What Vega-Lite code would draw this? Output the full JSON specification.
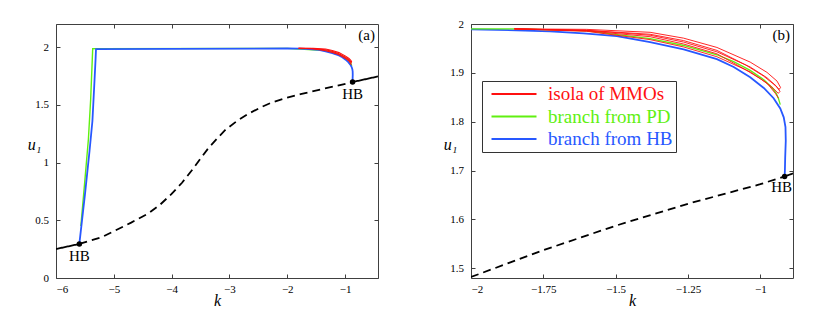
{
"$schema": "https://vega.github.io/schema/vega-lite/v6.json",
"background": "white",
"padding": {"left": 26, "top": 17, "right": 0, "bottom": 0},
"config": {
  "font": "Liberation Serif",
  "view": {"stroke": "#404040", "strokeWidth": 1},
  "axis": {"domain": false, "grid": false, "ticks": true, "tickSize": -4, "tickColor": "#404040", "labelFont": "Liberation Serif", "labelFontSize": 11, "labelColor": "black", "titleFont": "Liberation Serif", "titleFontSize": 16, "titleFontStyle": "italic", "titleFontWeight": "normal", "titleColor": "black"},
  "legend": {"labelFont": "Liberation Serif"}
},
"datasets": {
  "lines": [
    {"p":"a","s":"as1","b":"stable","i":1,"k":-6,"u":0.251},
    {"p":"a","s":"as1","b":"stable","i":2,"k":-5.596,"u":0.295},
    {"p":"a","s":"as2","b":"unstable","i":1,"k":-5.596,"u":0.295},
    {"p":"a","s":"as2","b":"unstable","i":2,"k":-5.21,"u":0.353},
    {"p":"a","s":"as2","b":"unstable","i":3,"k":-4.98,"u":0.41},
    {"p":"a","s":"as2","b":"unstable","i":4,"k":-4.7,"u":0.48},
    {"p":"a","s":"as2","b":"unstable","i":5,"k":-4.4,"u":0.56},
    {"p":"a","s":"as2","b":"unstable","i":6,"k":-4.2,"u":0.635},
    {"p":"a","s":"as2","b":"unstable","i":7,"k":-4.0,"u":0.728},
    {"p":"a","s":"as2","b":"unstable","i":8,"k":-3.82,"u":0.825},
    {"p":"a","s":"as2","b":"unstable","i":9,"k":-3.653,"u":0.931},
    {"p":"a","s":"as2","b":"unstable","i":10,"k":-3.5,"u":1.035},
    {"p":"a","s":"as2","b":"unstable","i":11,"k":-3.364,"u":1.125},
    {"p":"a","s":"as2","b":"unstable","i":12,"k":-3.2,"u":1.215},
    {"p":"a","s":"as2","b":"unstable","i":13,"k":-3.076,"u":1.28},
    {"p":"a","s":"as2","b":"unstable","i":14,"k":-2.87,"u":1.36},
    {"p":"a","s":"as2","b":"unstable","i":15,"k":-2.672,"u":1.422},
    {"p":"a","s":"as2","b":"unstable","i":16,"k":-2.45,"u":1.48},
    {"p":"a","s":"as2","b":"unstable","i":17,"k":-2.269,"u":1.52},
    {"p":"a","s":"as2","b":"unstable","i":18,"k":-2.0,"u":1.562},
    {"p":"a","s":"as2","b":"unstable","i":19,"k":-1.75,"u":1.595},
    {"p":"a","s":"as2","b":"unstable","i":20,"k":-1.45,"u":1.63},
    {"p":"a","s":"as2","b":"unstable","i":21,"k":-1.173,"u":1.661},
    {"p":"a","s":"as2","b":"unstable","i":22,"k":-0.87,"u":1.697},
    {"p":"a","s":"as3","b":"stable","i":1,"k":-0.87,"u":1.697},
    {"p":"a","s":"as3","b":"stable","i":2,"k":-0.43,"u":1.746},

    {"p":"a","s":"ag","b":"branch from PD","i":1,"k":-5.57,"u":0.45},
    {"p":"a","s":"ag","b":"branch from PD","i":2,"k":-5.5,"u":0.85},
    {"p":"a","s":"ag","b":"branch from PD","i":3,"k":-5.44,"u":1.2},
    {"p":"a","s":"ag","b":"branch from PD","i":4,"k":-5.40,"u":1.55},
    {"p":"a","s":"ag","b":"branch from PD","i":5,"k":-5.365,"u":1.986},
    {"p":"a","s":"ag","b":"branch from PD","i":6,"k":-5.30,"u":1.987},
    {"p":"a","s":"ag","b":"branch from PD","i":7,"k":-2,"u":1.989},
    {"p":"a","s":"ag","b":"branch from PD","i":8,"k":-1.336,"u":1.97},
    {"p":"a","s":"ag","b":"branch from PD","i":9,"k":-1.22,"u":1.956},
    {"p":"a","s":"ag","b":"branch from PD","i":10,"k":-1.105,"u":1.937},
    {"p":"a","s":"ag","b":"branch from PD","i":11,"k":-1.047,"u":1.923},
    {"p":"a","s":"ag","b":"branch from PD","i":12,"k":-0.99,"u":1.905},
    {"p":"a","s":"ag","b":"branch from PD","i":13,"k":-0.943,"u":1.886},
    {"p":"a","s":"ag","b":"branch from PD","i":14,"k":-0.915,"u":1.87},
    {"p":"a","s":"ag","b":"branch from PD","i":15,"k":-0.9,"u":1.858},
    {"p":"a","s":"ag","b":"branch from PD","i":16,"k":-0.892,"u":1.847},
    {"p":"a","s":"ag","b":"branch from PD","i":17,"k":-0.886,"u":1.835},

    {"p":"a","s":"ab","b":"branch from HB","i":1,"k":-5.596,"u":0.295},
    {"p":"a","s":"ab","b":"branch from HB","i":2,"k":-5.5,"u":0.72},
    {"p":"a","s":"ab","b":"branch from HB","i":3,"k":-5.42,"u":1.1},
    {"p":"a","s":"ab","b":"branch from HB","i":4,"k":-5.37,"u":1.36},
    {"p":"a","s":"ab","b":"branch from HB","i":5,"k":-5.335,"u":1.7},
    {"p":"a","s":"ab","b":"branch from HB","i":6,"k":-5.315,"u":1.9},
    {"p":"a","s":"ab","b":"branch from HB","i":7,"k":-5.308,"u":1.983},
    {"p":"a","s":"ab","b":"branch from HB","i":8,"k":-4,"u":1.985},
    {"p":"a","s":"ab","b":"branch from HB","i":9,"k":-2,"u":1.988},
    {"p":"a","s":"ab","b":"branch from HB","i":10,"k":-1.797,"u":1.987},
    {"p":"a","s":"ab","b":"branch from HB","i":11,"k":-1.682,"u":1.985},
    {"p":"a","s":"ab","b":"branch from HB","i":12,"k":-1.566,"u":1.981},
    {"p":"a","s":"ab","b":"branch from HB","i":13,"k":-1.451,"u":1.975},
    {"p":"a","s":"ab","b":"branch from HB","i":14,"k":-1.336,"u":1.963},
    {"p":"a","s":"ab","b":"branch from HB","i":15,"k":-1.22,"u":1.948},
    {"p":"a","s":"ab","b":"branch from HB","i":16,"k":-1.105,"u":1.928},
    {"p":"a","s":"ab","b":"branch from HB","i":17,"k":-1.047,"u":1.912},
    {"p":"a","s":"ab","b":"branch from HB","i":18,"k":-0.99,"u":1.891},
    {"p":"a","s":"ab","b":"branch from HB","i":19,"k":-0.943,"u":1.869},
    {"p":"a","s":"ab","b":"branch from HB","i":20,"k":-0.909,"u":1.848},
    {"p":"a","s":"ab","b":"branch from HB","i":21,"k":-0.886,"u":1.827},
    {"p":"a","s":"ab","b":"branch from HB","i":22,"k":-0.874,"u":1.809},
    {"p":"a","s":"ab","b":"branch from HB","i":23,"k":-0.868,"u":1.789},
    {"p":"a","s":"ab","b":"branch from HB","i":24,"k":-0.867,"u":1.761},
    {"p":"a","s":"ab","b":"branch from HB","i":25,"k":-0.869,"u":1.727},
    {"p":"a","s":"ab","b":"branch from HB","i":26,"k":-0.87,"u":1.70},
    {"p":"a","s":"ab","b":"branch from HB","i":27,"k":-0.87,"u":1.697},

    {"p":"a","s":"ar1","b":"isola of MMOs","i":1,"k":-1.805,"u":1.99},
    {"p":"a","s":"ar1","b":"isola of MMOs","i":2,"k":-1.555,"u":1.989},
    {"p":"a","s":"ar1","b":"isola of MMOs","i":3,"k":-1.336,"u":1.983},
    {"p":"a","s":"ar1","b":"isola of MMOs","i":4,"k":-1.22,"u":1.971},
    {"p":"a","s":"ar1","b":"isola of MMOs","i":5,"k":-1.105,"u":1.952},
    {"p":"a","s":"ar1","b":"isola of MMOs","i":6,"k":-0.99,"u":1.922},
    {"p":"a","s":"ar1","b":"isola of MMOs","i":7,"k":-0.932,"u":1.901},
    {"p":"a","s":"ar1","b":"isola of MMOs","i":8,"k":-0.897,"u":1.883},
    {"p":"a","s":"ar1","b":"isola of MMOs","i":9,"k":-0.885,"u":1.87},
    {"p":"a","s":"ar2","b":"isola of MMOs","i":1,"k":-1.805,"u":1.99},
    {"p":"a","s":"ar2","b":"isola of MMOs","i":2,"k":-1.555,"u":1.987},
    {"p":"a","s":"ar2","b":"isola of MMOs","i":3,"k":-1.336,"u":1.977},
    {"p":"a","s":"ar2","b":"isola of MMOs","i":4,"k":-1.22,"u":1.963},
    {"p":"a","s":"ar2","b":"isola of MMOs","i":5,"k":-1.105,"u":1.943},
    {"p":"a","s":"ar2","b":"isola of MMOs","i":6,"k":-0.99,"u":1.912},
    {"p":"a","s":"ar2","b":"isola of MMOs","i":7,"k":-0.932,"u":1.89},
    {"p":"a","s":"ar2","b":"isola of MMOs","i":8,"k":-0.9,"u":1.873},
    {"p":"a","s":"ar2","b":"isola of MMOs","i":9,"k":-0.887,"u":1.862},
    {"p":"a","s":"ar3","b":"isola of MMOs","i":1,"k":-1.805,"u":1.99},
    {"p":"a","s":"ar3","b":"isola of MMOs","i":2,"k":-1.555,"u":1.985},
    {"p":"a","s":"ar3","b":"isola of MMOs","i":3,"k":-1.336,"u":1.968},
    {"p":"a","s":"ar3","b":"isola of MMOs","i":4,"k":-1.22,"u":1.953},
    {"p":"a","s":"ar3","b":"isola of MMOs","i":5,"k":-1.105,"u":1.933},
    {"p":"a","s":"ar3","b":"isola of MMOs","i":6,"k":-0.99,"u":1.902},
    {"p":"a","s":"ar3","b":"isola of MMOs","i":7,"k":-0.932,"u":1.879},
    {"p":"a","s":"ar3","b":"isola of MMOs","i":8,"k":-0.903,"u":1.858},
    {"p":"a","s":"ar3","b":"isola of MMOs","i":9,"k":-0.892,"u":1.848},

    {"p":"b","s":"bs1","b":"unstable","i":1,"k":-2,"u":1.482},
    {"p":"b","s":"bs1","b":"unstable","i":2,"k":-1.75,"u":1.537},
    {"p":"b","s":"bs1","b":"unstable","i":3,"k":-1.5,"u":1.587},
    {"p":"b","s":"bs1","b":"unstable","i":4,"k":-1.25,"u":1.632},
    {"p":"b","s":"bs1","b":"unstable","i":5,"k":-1.0,"u":1.672},
    {"p":"b","s":"bs1","b":"unstable","i":6,"k":-0.916,"u":1.688},
    {"p":"b","s":"bs2","b":"stable","i":1,"k":-0.916,"u":1.688},
    {"p":"b","s":"bs2","b":"stable","i":2,"k":-0.887,"u":1.694},

    {"p":"b","s":"bb","b":"branch from HB","i":1,"k":-2,"u":1.989},
    {"p":"b","s":"bb","b":"branch from HB","i":2,"k":-1.842,"u":1.987},
    {"p":"b","s":"bb","b":"branch from HB","i":3,"k":-1.727,"u":1.985},
    {"p":"b","s":"bb","b":"branch from HB","i":4,"k":-1.611,"u":1.981},
    {"p":"b","s":"bb","b":"branch from HB","i":5,"k":-1.496,"u":1.975},
    {"p":"b","s":"bb","b":"branch from HB","i":6,"k":-1.381,"u":1.963},
    {"p":"b","s":"bb","b":"branch from HB","i":7,"k":-1.265,"u":1.948},
    {"p":"b","s":"bb","b":"branch from HB","i":8,"k":-1.15,"u":1.928},
    {"p":"b","s":"bb","b":"branch from HB","i":9,"k":-1.092,"u":1.912},
    {"p":"b","s":"bb","b":"branch from HB","i":10,"k":-1.035,"u":1.891},
    {"p":"b","s":"bb","b":"branch from HB","i":11,"k":-0.988,"u":1.869},
    {"p":"b","s":"bb","b":"branch from HB","i":12,"k":-0.954,"u":1.848},
    {"p":"b","s":"bb","b":"branch from HB","i":13,"k":-0.931,"u":1.827},
    {"p":"b","s":"bb","b":"branch from HB","i":14,"k":-0.919,"u":1.809},
    {"p":"b","s":"bb","b":"branch from HB","i":15,"k":-0.913,"u":1.789},
    {"p":"b","s":"bb","b":"branch from HB","i":16,"k":-0.912,"u":1.761},
    {"p":"b","s":"bb","b":"branch from HB","i":17,"k":-0.914,"u":1.727},
    {"p":"b","s":"bb","b":"branch from HB","i":18,"k":-0.915,"u":1.700},
    {"p":"b","s":"bb","b":"branch from HB","i":19,"k":-0.916,"u":1.688},

    {"p":"b","s":"bg","b":"branch from PD","i":1,"k":-2,"u":1.99},
    {"p":"b","s":"bg","b":"branch from PD","i":2,"k":-1.83,"u":1.99},
    {"p":"b","s":"bg","b":"branch from PD","i":3,"k":-1.6,"u":1.986},
    {"p":"b","s":"bg","b":"branch from PD","i":4,"k":-1.381,"u":1.97},
    {"p":"b","s":"bg","b":"branch from PD","i":5,"k":-1.265,"u":1.956},
    {"p":"b","s":"bg","b":"branch from PD","i":6,"k":-1.15,"u":1.937},
    {"p":"b","s":"bg","b":"branch from PD","i":7,"k":-1.092,"u":1.923},
    {"p":"b","s":"bg","b":"branch from PD","i":8,"k":-1.035,"u":1.905},
    {"p":"b","s":"bg","b":"branch from PD","i":9,"k":-0.988,"u":1.886},
    {"p":"b","s":"bg","b":"branch from PD","i":10,"k":-0.96,"u":1.87},
    {"p":"b","s":"bg","b":"branch from PD","i":11,"k":-0.945,"u":1.858},
    {"p":"b","s":"bg","b":"branch from PD","i":12,"k":-0.937,"u":1.847},
    {"p":"b","s":"bg","b":"branch from PD","i":13,"k":-0.931,"u":1.835},

    {"p":"b","s":"br1","b":"isola of MMOs","i":1,"k":-1.85,"u":1.99},
    {"p":"b","s":"br1","b":"isola of MMOs","i":2,"k":-1.6,"u":1.989},
    {"p":"b","s":"br1","b":"isola of MMOs","i":3,"k":-1.381,"u":1.983},
    {"p":"b","s":"br1","b":"isola of MMOs","i":4,"k":-1.265,"u":1.971},
    {"p":"b","s":"br1","b":"isola of MMOs","i":5,"k":-1.15,"u":1.952},
    {"p":"b","s":"br1","b":"isola of MMOs","i":6,"k":-1.035,"u":1.922},
    {"p":"b","s":"br1","b":"isola of MMOs","i":7,"k":-0.977,"u":1.901},
    {"p":"b","s":"br1","b":"isola of MMOs","i":8,"k":-0.942,"u":1.883},
    {"p":"b","s":"br1","b":"isola of MMOs","i":9,"k":-0.93,"u":1.87},
    {"p":"b","s":"br1","b":"isola of MMOs","i":10,"k":-0.935,"u":1.866},
    {"p":"b","s":"br1","b":"isola of MMOs","i":11,"k":-0.95,"u":1.875},
    {"p":"b","s":"br1","b":"isola of MMOs","i":12,"k":-0.99,"u":1.894},
    {"p":"b","s":"br1","b":"isola of MMOs","i":13,"k":-1.05,"u":1.916},
    {"p":"b","s":"br1","b":"isola of MMOs","i":14,"k":-1.15,"u":1.946},
    {"p":"b","s":"br1","b":"isola of MMOs","i":15,"k":-1.265,"u":1.966},
    {"p":"b","s":"br1","b":"isola of MMOs","i":16,"k":-1.381,"u":1.979},
    {"p":"b","s":"br1","b":"isola of MMOs","i":17,"k":-1.6,"u":1.987},
    {"p":"b","s":"br1","b":"isola of MMOs","i":18,"k":-1.85,"u":1.99},
    {"p":"b","s":"br2","b":"isola of MMOs","i":1,"k":-1.85,"u":1.99},
    {"p":"b","s":"br2","b":"isola of MMOs","i":2,"k":-1.6,"u":1.987},
    {"p":"b","s":"br2","b":"isola of MMOs","i":3,"k":-1.381,"u":1.977},
    {"p":"b","s":"br2","b":"isola of MMOs","i":4,"k":-1.265,"u":1.963},
    {"p":"b","s":"br2","b":"isola of MMOs","i":5,"k":-1.15,"u":1.943},
    {"p":"b","s":"br2","b":"isola of MMOs","i":6,"k":-1.035,"u":1.912},
    {"p":"b","s":"br2","b":"isola of MMOs","i":7,"k":-0.977,"u":1.89},
    {"p":"b","s":"br2","b":"isola of MMOs","i":8,"k":-0.945,"u":1.873},
    {"p":"b","s":"br2","b":"isola of MMOs","i":9,"k":-0.932,"u":1.862},
    {"p":"b","s":"br2","b":"isola of MMOs","i":10,"k":-0.938,"u":1.858},
    {"p":"b","s":"br2","b":"isola of MMOs","i":11,"k":-0.96,"u":1.871},
    {"p":"b","s":"br2","b":"isola of MMOs","i":12,"k":-1.0,"u":1.888},
    {"p":"b","s":"br2","b":"isola of MMOs","i":13,"k":-1.05,"u":1.906},
    {"p":"b","s":"br2","b":"isola of MMOs","i":14,"k":-1.15,"u":1.939},
    {"p":"b","s":"br2","b":"isola of MMOs","i":15,"k":-1.265,"u":1.959},
    {"p":"b","s":"br2","b":"isola of MMOs","i":16,"k":-1.381,"u":1.974},
    {"p":"b","s":"br2","b":"isola of MMOs","i":17,"k":-1.6,"u":1.986},
    {"p":"b","s":"br2","b":"isola of MMOs","i":18,"k":-1.85,"u":1.99},
    {"p":"b","s":"br3","b":"isola of MMOs","i":1,"k":-1.85,"u":1.99},
    {"p":"b","s":"br3","b":"isola of MMOs","i":2,"k":-1.6,"u":1.985},
    {"p":"b","s":"br3","b":"isola of MMOs","i":3,"k":-1.381,"u":1.968},
    {"p":"b","s":"br3","b":"isola of MMOs","i":4,"k":-1.265,"u":1.953},
    {"p":"b","s":"br3","b":"isola of MMOs","i":5,"k":-1.15,"u":1.933},
    {"p":"b","s":"br3","b":"isola of MMOs","i":6,"k":-1.035,"u":1.902},
    {"p":"b","s":"br3","b":"isola of MMOs","i":7,"k":-0.977,"u":1.879},
    {"p":"b","s":"br3","b":"isola of MMOs","i":8,"k":-0.948,"u":1.858},
    {"p":"b","s":"br3","b":"isola of MMOs","i":9,"k":-0.937,"u":1.848}
  ],
  "hb": [
    {"p":"a","k":-5.596,"u":0.295,"t":"HB"},
    {"p":"a","k":-0.87,"u":1.697,"t":"HB"},
    {"p":"b","k":-0.916,"u":1.688,"t":"HB"}
  ],
  "tags": [
    {"p":"a","k":-0.43,"u":2.2,"t":"(a)"},
    {"p":"b","k":-0.887,"u":2.0,"t":"(b)"}
  ]
},
"bounds": "flush",
"spacing": 93,
"resolve": {"scale": {"color": "independent", "strokeDash": "independent"}, "legend": {"color": "independent"}},
"hconcat": [
  {
    "width": 322, "height": 254,
    "resolve": {"axis": {"x": "independent", "y": "independent"}},
    "encoding": {
      "x": {"field": "k", "type": "quantitative", "scale": {"domain": [-6, -0.43], "nice": false, "zero": false}, "axis": null},
      "y": {"field": "u", "type": "quantitative", "scale": {"domain": [0, 2.2], "nice": false, "zero": false}, "axis": null}
    },
    "layer": [
      {
        "data": {"name": "lines"},
        "transform": [{"filter": "datum.p == 'a' && (datum.b == 'stable' || datum.b == 'unstable')"}],
        "mark": {"type": "line", "clip": true, "color": "black", "strokeWidth": 1.8},
        "encoding": {
          "x": {"field": "k", "type": "quantitative", "scale": {"domain": [-6, -0.43], "nice": false, "zero": false},
                "axis": {"orient": "bottom", "values": [-6, -5, -4, -3, -2, -1], "format": ".3~g", "title": "k", "labelPadding": 9, "titleY": 27, "titleBaseline": "alphabetic", "labelFont": "Liberation Serif", "labelFontSize": 11, "labelColor": "black", "titleFont": "Liberation Serif", "titleFontSize": 16, "titleFontStyle": "italic", "titleFontWeight": "normal", "titleColor": "black"}},
          "y": {"field": "u", "type": "quantitative", "scale": {"domain": [0, 2.2], "nice": false, "zero": false},
                "axis": {"orient": "left", "values": [0, 0.5, 1, 1.5, 2], "format": ".3~g", "title": "u₁", "titleAngle": 0, "titleX": -22, "titleY": 125, "titleAlign": "center", "titleBaseline": "alphabetic", "labelPadding": 11.5, "labelFont": "Liberation Serif", "labelFontSize": 11, "labelColor": "black", "titleFont": "Liberation Serif", "titleFontSize": 16, "titleFontStyle": "italic", "titleFontWeight": "normal", "titleColor": "black"}},
          "detail": {"field": "s"},
          "order": {"field": "i", "type": "quantitative"},
          "strokeDash": {"field": "b", "scale": {"domain": ["stable", "unstable"], "range": [[1, 0], [8, 5]]}, "legend": null}
        }
      },
      {
        "data": {"name": "lines"},
        "transform": [{"filter": "datum.p == 'a' && datum.b == 'branch from PD'"}],
        "mark": {"type": "line", "clip": true, "strokeWidth": 1.4},
        "encoding": {
          "detail": {"field": "s"},
          "order": {"field": "i", "type": "quantitative"},
          "color": {"field": "b", "scale": {"domain": ["isola of MMOs", "branch from PD", "branch from HB"], "range": ["#ff1010", "#60f010", "#2858ff"]}, "legend": null}
        }
      },
      {
        "data": {"name": "lines"},
        "transform": [{"filter": "datum.p == 'a' && datum.b == 'branch from HB'"}],
        "mark": {"type": "line", "clip": true, "strokeWidth": 1.8},
        "encoding": {
          "detail": {"field": "s"},
          "order": {"field": "i", "type": "quantitative"},
          "color": {"field": "b", "scale": {"domain": ["isola of MMOs", "branch from PD", "branch from HB"], "range": ["#ff1010", "#60f010", "#2858ff"]}, "legend": null}
        }
      },
      {
        "data": {"name": "lines"},
        "transform": [{"filter": "datum.p == 'a' && datum.b == 'isola of MMOs'"}],
        "mark": {"type": "line", "clip": true, "strokeWidth": 1.1},
        "encoding": {
          "detail": {"field": "s"},
          "order": {"field": "i", "type": "quantitative"},
          "color": {"field": "b", "scale": {"domain": ["isola of MMOs", "branch from PD", "branch from HB"], "range": ["#ff1010", "#60f010", "#2858ff"]}, "legend": null}
        }
      },
      {
        "data": {"name": "hb"},
        "transform": [{"filter": "datum.p == 'a'"}],
        "mark": {"type": "point", "filled": true, "color": "black", "size": 30, "opacity": 1},
        "encoding": {
          "x": {"field": "k", "type": "quantitative", "scale": {"domain": [-6, -0.43], "nice": false, "zero": false},
                "axis": {"orient": "top", "values": [-6, -5, -4, -3, -2, -1], "labels": false, "title": null}},
          "y": {"field": "u", "type": "quantitative", "scale": {"domain": [0, 2.2], "nice": false, "zero": false},
                "axis": {"orient": "right", "values": [0, 0.5, 1, 1.5, 2], "labels": false, "title": null}}
        }
      },
      {
        "data": {"name": "hb"},
        "transform": [{"filter": "datum.p == 'a'"}],
        "mark": {"type": "text", "dy": 12, "baseline": "middle", "align": "center", "fontSize": 15, "font": "Liberation Serif", "color": "black"},
        "encoding": {"text": {"field": "t"}}
      },
      {
        "data": {"name": "tags"},
        "transform": [{"filter": "datum.p == 'a'"}],
        "mark": {"type": "text", "dy": 16, "dx": -3, "baseline": "alphabetic", "align": "right", "fontSize": 15, "font": "Liberation Serif", "color": "black"},
        "encoding": {"text": {"field": "t"}}
      }
    ]
  },
  {
    "width": 322, "height": 254,
    "resolve": {"axis": {"x": "independent", "y": "independent"}},
    "encoding": {
      "x": {"field": "k", "type": "quantitative", "scale": {"domain": [-2, -0.887], "nice": false, "zero": false}, "axis": null},
      "y": {"field": "u", "type": "quantitative", "scale": {"domain": [1.48, 2], "nice": false, "zero": false}, "axis": null}
    },
    "layer": [
      {
        "data": {"name": "lines"},
        "transform": [{"filter": "datum.p == 'b' && (datum.b == 'stable' || datum.b == 'unstable')"}],
        "mark": {"type": "line", "clip": true, "color": "black", "strokeWidth": 1.8},
        "encoding": {
          "x": {"field": "k", "type": "quantitative", "scale": {"domain": [-2, -0.887], "nice": false, "zero": false},
                "axis": {"orient": "bottom", "values": [-2, -1.75, -1.5, -1.25, -1], "format": ".3~g", "title": "k", "labelPadding": 9, "titleY": 27, "titleBaseline": "alphabetic", "labelFont": "Liberation Serif", "labelFontSize": 11, "labelColor": "black", "titleFont": "Liberation Serif", "titleFontSize": 16, "titleFontStyle": "italic", "titleFontWeight": "normal", "titleColor": "black"}},
          "y": {"field": "u", "type": "quantitative", "scale": {"domain": [1.48, 2], "nice": false, "zero": false},
                "axis": {"orient": "left", "values": [1.5, 1.6, 1.7, 1.8, 1.9, 2], "format": ".3~g", "title": "u₁", "titleAngle": 0, "titleX": -21, "titleY": 125, "titleAlign": "center", "titleBaseline": "alphabetic", "labelPadding": 11.5, "labelFont": "Liberation Serif", "labelFontSize": 11, "labelColor": "black", "titleFont": "Liberation Serif", "titleFontSize": 16, "titleFontStyle": "italic", "titleFontWeight": "normal", "titleColor": "black"}},
          "detail": {"field": "s"},
          "order": {"field": "i", "type": "quantitative"},
          "strokeDash": {"field": "b", "scale": {"domain": ["stable", "unstable"], "range": [[1, 0], [8, 5]]}, "legend": null}
        }
      },
      {
        "data": {"name": "lines"},
        "transform": [{"filter": "datum.p == 'b' && datum.b == 'branch from HB'"}],
        "mark": {"type": "line", "clip": true, "strokeWidth": 1.8},
        "encoding": {
          "detail": {"field": "s"},
          "order": {"field": "i", "type": "quantitative"},
          "color": {"field": "b", "scale": {"domain": ["isola of MMOs", "branch from PD", "branch from HB"], "range": ["#ff1010", "#60f010", "#2858ff"]},
                    "legend": {"title": null, "orient": "none", "legendX": 11, "legendY": 57, "symbolType": "stroke", "symbolSize": 2025, "symbolStrokeWidth": 2.2, "clipHeight": 20, "rowPadding": 2.5, "padding": 3, "symbolOffset": 5, "labelOffset": 10, "labelFont": "Liberation Serif", "labelFontSize": 19, "labelLimit": 300, "strokeColor": "#333333", "fillColor": "white",
                               "labelColor": {"expr": "datum.value == 'isola of MMOs' ? '#ff1010' : datum.value == 'branch from PD' ? '#60f010' : '#2858ff'"}}}
        }
      },
      {
        "data": {"name": "lines"},
        "transform": [{"filter": "datum.p == 'b' && datum.b == 'branch from PD'"}],
        "mark": {"type": "line", "clip": true, "strokeWidth": 1.3},
        "encoding": {
          "detail": {"field": "s"},
          "order": {"field": "i", "type": "quantitative"},
          "color": {"field": "b", "scale": {"domain": ["isola of MMOs", "branch from PD", "branch from HB"], "range": ["#ff1010", "#60f010", "#2858ff"]}, "legend": null}
        }
      },
      {
        "data": {"name": "lines"},
        "transform": [{"filter": "datum.p == 'b' && datum.b == 'isola of MMOs'"}],
        "mark": {"type": "line", "clip": true, "strokeWidth": 0.9},
        "encoding": {
          "detail": {"field": "s"},
          "order": {"field": "i", "type": "quantitative"},
          "color": {"field": "b", "scale": {"domain": ["isola of MMOs", "branch from PD", "branch from HB"], "range": ["#ff1010", "#60f010", "#2858ff"]}, "legend": null}
        }
      },
      {
        "data": {"name": "hb"},
        "transform": [{"filter": "datum.p == 'b'"}],
        "mark": {"type": "point", "filled": true, "color": "black", "size": 30, "opacity": 1},
        "encoding": {
          "x": {"field": "k", "type": "quantitative", "scale": {"domain": [-2, -0.887], "nice": false, "zero": false},
                "axis": {"orient": "top", "values": [-2, -1.75, -1.5, -1.25, -1], "labels": false, "title": null}},
          "y": {"field": "u", "type": "quantitative", "scale": {"domain": [1.48, 2], "nice": false, "zero": false},
                "axis": {"orient": "right", "values": [1.5, 1.6, 1.7, 1.8, 1.9, 2], "labels": false, "title": null}}
        }
      },
      {
        "data": {"name": "hb"},
        "transform": [{"filter": "datum.p == 'b'"}],
        "mark": {"type": "text", "dy": 11, "dx": -3, "baseline": "middle", "align": "center", "fontSize": 15, "font": "Liberation Serif", "color": "black"},
        "encoding": {"text": {"field": "t"}}
      },
      {
        "data": {"name": "tags"},
        "transform": [{"filter": "datum.p == 'b'"}],
        "mark": {"type": "text", "dy": 16, "dx": -3, "baseline": "alphabetic", "align": "right", "fontSize": 15, "font": "Liberation Serif", "color": "black"},
        "encoding": {"text": {"field": "t"}}
      }
    ]
  }
]
}
